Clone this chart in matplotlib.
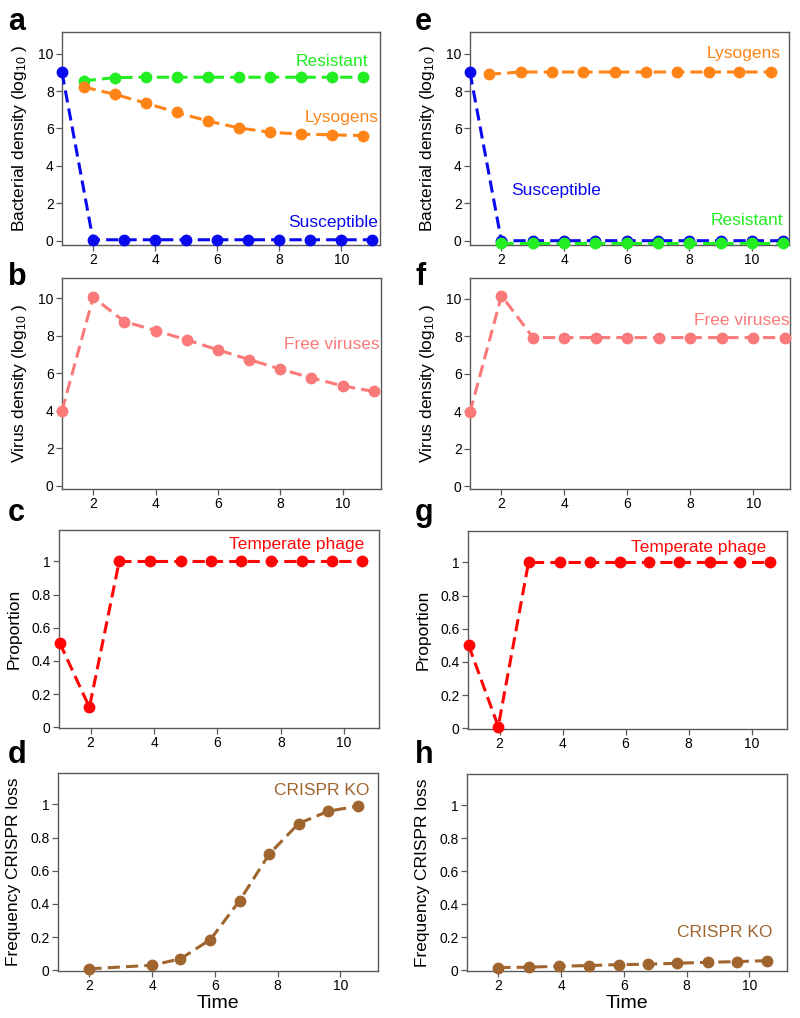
import matplotlib
matplotlib.use("Agg")
import matplotlib.pyplot as plt
from matplotlib.ticker import FuncFormatter

plt.rcParams["font.family"] = ["Liberation Sans", "DejaVu Sans"]
plt.rcParams["mathtext.fontset"] = "custom"
plt.rcParams["mathtext.rm"] = "Liberation Sans"
plt.rcParams["mathtext.default"] = "regular"

# ── data ─────────────────────────────────────────────────────────────────────
# panel a: bacteria, CRISPR-immune host
t_a_susc = [1, 2, 3, 4, 5, 6, 7, 8, 9, 10, 11]
a_susceptible = [9.0, 0.05, 0.05, 0.05, 0.05, 0.05, 0.05, 0.05, 0.05, 0.05, 0.05]
t_a_other = [1.7, 2.7, 3.7, 4.7, 5.7, 6.7, 7.7, 8.7, 9.7, 10.7]
a_resistant = [8.55, 8.72, 8.74, 8.74, 8.74, 8.74, 8.74, 8.74, 8.74, 8.74]
a_lysogens = [8.22, 7.83, 7.36, 6.86, 6.4, 6.03, 5.8, 5.7, 5.66, 5.62]

# panel b: free viruses
t_b = [1, 2, 3, 4, 5, 6, 7, 8, 9, 10, 11]
b_viruses = [4.0, 10.04, 8.75, 8.27, 7.77, 7.24, 6.72, 6.22, 5.74, 5.32, 5.02]

# panel c: temperate phage proportion
t_c = [1.02, 1.96, 2.9, 3.88, 4.84, 5.79, 6.74, 7.69, 8.66, 9.62, 10.57]
c_temperate = [0.51, 0.12, 1.0, 1.0, 1.0, 1.0, 1.0, 1.0, 1.0, 1.0, 1.0]

# panel d: CRISPR loss
t_d = [2.0, 4.0, 4.9, 5.86, 6.79, 7.73, 8.67, 9.62, 10.57]
d_crispr_ko = [0.008, 0.03, 0.068, 0.185, 0.42, 0.70, 0.885, 0.96, 0.99]

# panel e
t_e_susc = [1, 2, 3, 4, 5, 6, 7, 8, 9, 10, 11]
e_susceptible = [9.0, 0.0, 0.0, 0.0, 0.0, 0.0, 0.0, 0.0, 0.0, 0.0, 0.0]
t_e_res = [2, 3, 4, 5, 6, 7, 8, 9, 10, 11]
e_resistant = [-0.12, -0.12, -0.12, -0.12, -0.12, -0.12, -0.12, -0.12, -0.12, -0.12]
t_e_lys = [1.6, 2.62, 3.62, 4.62, 5.62, 6.62, 7.6, 8.62, 9.6, 10.6]
e_lysogens = [8.9, 9.02, 9.02, 9.02, 9.02, 9.02, 9.02, 9.02, 9.02, 9.02]

# panel f
t_f = [1, 2, 3, 4, 5, 6, 7, 8, 9, 10, 11]
f_viruses = [3.95, 10.18, 7.94, 7.94, 7.94, 7.94, 7.94, 7.94, 7.94, 7.94, 7.94]

# panel g
t_g = [1.02, 1.96, 2.92, 3.91, 4.86, 5.81, 6.74, 7.69, 8.67, 9.63, 10.57]
g_temperate = [0.5, 0.01, 1.0, 1.0, 1.0, 1.0, 1.0, 1.0, 1.0, 1.0, 1.0]

# panel h
t_h = [2.0, 2.98, 3.93, 4.89, 5.84, 6.77, 7.7, 8.67, 9.62, 10.57]
h_crispr_ko = [0.016, 0.018, 0.024, 0.028, 0.034, 0.036, 0.042, 0.048, 0.052, 0.058]

# ── colours ──────────────────────────────────────────────────────────────────
C_SUSC = "#0A0AEE"
C_RES = "#22EE22"
C_LYS = "#FF8418"
C_VIR = "#FA7A7A"
C_TEMP = "#FF0505"
C_KO = "#A0652F"
C_SPINE = "#5A5A5A"

W, H = 800, 1018
fig = plt.figure(figsize=(W / 100, H / 100), dpi=100)


def make_ax(left, top, right, bottom):
    return fig.add_axes([left / W, 1 - bottom / H, (right - left) / W, (bottom - top) / H])


def style(ax, xlim, ylim, yticks):
    ax.set_xlim(*xlim)
    ax.set_ylim(*ylim)
    ax.set_xticks([2, 4, 6, 8, 10])
    ax.set_yticks(yticks)
    ax.yaxis.set_major_formatter(FuncFormatter(lambda v, p: f"{v:g}"))
    for s in ax.spines.values():
        s.set_color(C_SPINE)
        s.set_linewidth(1.0)
    ax.tick_params(direction="out", length=4, width=0.9, color=C_SPINE,
                   labelsize=10, pad=2, top=False, right=False)


def series(ax, x, y, color):
    ax.plot(x, y, "--", color=color, lw=2.2, marker="o", ms=7.5,
            dashes=(4, 2), clip_on=False, zorder=3)


def label(ax, x, y, s, color, ha="right"):
    ax.text(x, y, s, color=color, fontsize=12.5, ha=ha, va="center")


bact_label = "Bacterial density (log$_{10}$ )"
vir_label = "Virus density (log$_{10}$ )"
dens_ticks = [0, 2, 4, 6, 8, 10]
prop_ticks = [0, 0.2, 0.4, 0.6, 0.8, 1]

# ── left column ──────────────────────────────────────────────────────────────
ax_a = make_ax(62, 32, 380, 245)
style(ax_a, (1, 11.25), (-0.23, 11.16), dens_ticks)
series(ax_a, t_a_susc, a_susceptible, C_SUSC)
series(ax_a, t_a_other, a_resistant, C_RES)
series(ax_a, t_a_other, a_lysogens, C_LYS)
label(ax_a, 10.86, 9.6, "Resistant", C_RES)
label(ax_a, 11.2, 6.6, "Lysogens", C_LYS)
label(ax_a, 11.2, 0.96, "Susceptible", C_SUSC)
ax_a.set_ylabel(bact_label, fontsize=12.5, labelpad=7)

ax_b = make_ax(62, 278, 381, 489)
style(ax_b, (1, 11.23), (-0.18, 11.07), dens_ticks)
series(ax_b, t_b, b_viruses, C_VIR)
label(ax_b, 11.2, 7.55, "Free viruses", C_VIR)
ax_b.set_ylabel(vir_label, fontsize=12.5, labelpad=7)

ax_c = make_ax(59, 530, 379, 728)
style(ax_c, (1.0, 11.1), (-0.005, 1.19), prop_ticks)
series(ax_c, t_c, c_temperate, C_TEMP)
label(ax_c, 10.62, 1.10, "Temperate phage", C_TEMP)
ax_c.set_ylabel("Proportion", fontsize=12.5, labelpad=7)

ax_d = make_ax(58, 773, 378, 971)
style(ax_d, (1.0, 11.2), (-0.005, 1.19), prop_ticks)
series(ax_d, t_d, d_crispr_ko, C_KO)
label(ax_d, 10.93, 1.087, "CRISPR KO", C_KO)
ax_d.set_ylabel("Frequency CRISPR loss", fontsize=12.5, labelpad=7)
ax_d.set_xlabel("Time", fontsize=14, labelpad=1)

# ── right column ─────────────────────────────────────────────────────────────
ax_e = make_ax(470, 32, 789, 245)
style(ax_e, (1, 11.18), (-0.23, 11.16), dens_ticks)
series(ax_e, t_e_susc, e_susceptible, C_SUSC)
series(ax_e, t_e_res, e_resistant, C_RES)
series(ax_e, t_e_lys, e_lysogens, C_LYS)
label(ax_e, 10.9, 10.0, "Lysogens", C_LYS)
label(ax_e, 2.32, 2.68, "Susceptible", C_SUSC, ha="left")
label(ax_e, 11.0, 1.1, "Resistant", C_RES)
ax_e.set_ylabel(bact_label, fontsize=12.5, labelpad=7)

ax_f = make_ax(470, 278, 790, 489)
style(ax_f, (1.0, 11.16), (-0.14, 11.12), dens_ticks)
series(ax_f, t_f, f_viruses, C_VIR)
label(ax_f, 11.15, 8.84, "Free viruses", C_VIR)
ax_f.set_ylabel(vir_label, fontsize=12.5, labelpad=7)

ax_g = make_ax(468, 531, 787, 729)
style(ax_g, (1.0, 11.12), (-0.005, 1.19), prop_ticks)
series(ax_g, t_g, g_temperate, C_TEMP)
label(ax_g, 10.45, 1.09, "Temperate phage", C_TEMP)
ax_g.set_ylabel("Proportion", fontsize=12.5, labelpad=7)

ax_h = make_ax(467, 774, 787, 971)
style(ax_h, (1.0, 11.2), (-0.005, 1.19), prop_ticks)
series(ax_h, t_h, h_crispr_ko, C_KO)
label(ax_h, 10.72, 0.23, "CRISPR KO", C_KO)
ax_h.set_ylabel("Frequency CRISPR loss", fontsize=12.5, labelpad=7)
ax_h.set_xlabel("Time", fontsize=14, labelpad=1)

# ── panel letters ────────────────────────────────────────────────────────────
for letter, x, y in [("a", 8, 22), ("b", 8, 277), ("c", 8, 513), ("d", 8, 755),
                     ("e", 415, 22), ("f", 415, 277), ("g", 415, 513), ("h", 415, 755)]:
    fig.text(x / W, 1 - y / H, letter, fontsize=22, fontweight="bold",
             ha="left", va="center")

fig.savefig("out.png", dpi=100)
